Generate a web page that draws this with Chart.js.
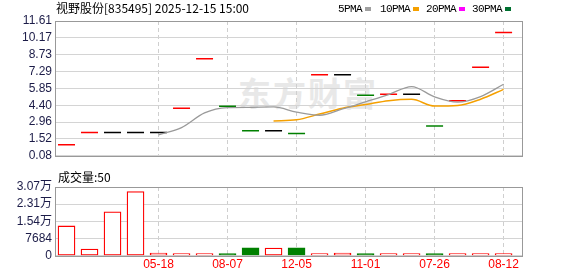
<!DOCTYPE html>
<html>
<head>
<meta charset="utf-8">
<script src="https://cdn.jsdelivr.net/npm/chart.js@4.4.1/dist/chart.umd.min.js"></script>
<style>
  body { margin: 0; background: #fff; }
  #wrap { position: relative; width: 578px; height: 276px; overflow: hidden; font-family: "Noto Sans CJK SC", sans-serif; }
  canvas { position: absolute; left: 0; }
  .t { position: absolute; white-space: nowrap; font-size: 12px; line-height: 14px; color: #000; }
  .lg { position: absolute; top: 2px; font: 11px "Liberation Mono", monospace; letter-spacing: -0.6px; line-height: 14px; color: #000; }
  .sq { position: absolute; top: 7px; width: 6px; height: 4px; }
  .wm { position: absolute; left: 238px; top: 72px; font-size: 33px; font-weight: bold; line-height: 40px; color: #e8e8e8; letter-spacing: 2px; }
</style>
</head>
<body>
<div id="wrap">
  <div class="wm">东方财富</div>
  <canvas id="price" width="578" height="166" style="top:0"></canvas>
  <canvas id="vol" width="578" height="110" style="top:166px"></canvas>

  <div class="t" style="left:56px;top:1px">视野股份[835495] 2025-12-15 15:00</div>

  <div class="lg" style="left:338px">5PMA</div><div class="sq" style="left:365px;background:#a0a0a0"></div>
  <div class="lg" style="left:380px">10PMA</div><div class="sq" style="left:413px;background:#f5a000"></div>
  <div class="lg" style="left:426px">20PMA</div><div class="sq" style="left:459px;background:#ff00ff"></div>
  <div class="lg" style="left:472px">30PMA</div><div class="sq" style="left:505px;background:#007030"></div>

  <div class="t" style="left:58px;top:170px">成交量:50</div>
</div>

<script>
// one flat candle per period (open = high = low = close here)
const closes = [1.02, 2.08, 2.08, 2.08, 2.08, 4.14, 8.38, 4.32, 2.22, 2.22,
                1.98, 7.02, 7.02, 5.26, 5.34, 5.34, 2.62, 4.78, 7.66, 10.62];
const ma5 = [null, null, null, null, 1.87, 2.49, 3.75, 4.20, 4.23, 4.26,
             3.82, 3.55, 4.09, 4.70, 5.32, 6.00, 5.12, 4.67, 5.15, 6.20];
const ma10 = [null, null, null, null, null, null, null, null, null, 3.06,
              3.16, 3.65, 4.15, 4.46, 4.79, 4.91, 4.33, 4.38, 4.92, 5.76];
const volumes = [13300, 2900, 19600, 28700, 1100, 150, 120, 300, 3500, 3350,
                 3500, 150, 1100, 250, 120, 120, 250, 100, 80, 50];

const xTickIndex = [4, 7, 10, 13, 16, 19];
const xTickLabels = ["05-18", "08-07", "12-05", "11-01", "07-26", "08-12"];
const priceTicks = ["0.08", "1.52", "2.96", "4.40", "5.85", "7.29", "8.73", "10.17", "11.61"];
const volTickValues = [0, 7684, 15368, 23052, 30736];
const volTickLabels = ["0", "7684", "1.54万", "2.31万", "3.07万"];

const RED = "#ff0000", GREEN = "#008000";
const trend = closes.map((c, i) => i === 0 || c > closes[i - 1] ? "up" : c < closes[i - 1] ? "down" : "flat");
const candleColor = trend.map(t => t === "up" ? RED : t === "down" ? GREEN : "#000");

const framePlugin = {
  id: "frame",
  afterDatasetsDraw(chart) {
    const { ctx, chartArea: a } = chart;
    ctx.save();
    ctx.strokeStyle = "#999";
    ctx.lineWidth = 1;
    ctx.strokeRect(Math.round(a.left) + 0.5, Math.round(a.top) + 0.5,
                   Math.round(a.right - a.left), Math.round(a.bottom - a.top));
    ctx.restore();
  }
};

const xAxis = (showLabels) => ({
  type: "linear",
  min: -0.5,
  max: 19.8,
  offset: false,
  afterBuildTicks: s => { s.ticks = xTickIndex.map(v => ({ value: v })); },
  ticks: {
    display: showLabels,
    autoSkip: false,
    maxRotation: 0,
    padding: 2,
    color: RED,
    font: { family: "Liberation Sans", size: 12 },
    callback: (v, i) => xTickLabels[i]
  },
  grid: { color: "#cfcfcf", drawTicks: false, offset: false },
  border: { display: false, dash: [4, 3] }
});

const yFont = { family: "'Liberation Sans', 'Noto Sans CJK SC'", size: 12 };

new Chart(document.getElementById("price"), {
  data: {
    datasets: [
      {
        type: "line", label: "5PMA", order: 1,
        data: ma5.map((v, i) => ({ x: i, y: v })),
        borderColor: "#9a9a9a", borderWidth: 1.3, pointRadius: 0,
        cubicInterpolationMode: "monotone"
      },
      {
        type: "line", label: "10PMA", order: 2,
        data: ma10.map((v, i) => ({ x: i, y: v })),
        borderColor: "#f5a000", borderWidth: 1.5, pointRadius: 0,
        cubicInterpolationMode: "monotone"
      },
      {
        type: "scatter", label: "K", order: 3,
        data: closes.map((v, i) => ({ x: i, y: v })),
        pointStyle: "line", pointRadius: 8.5, pointBorderWidth: 1.5,
        pointBorderColor: candleColor, pointBackgroundColor: candleColor
      }
    ]
  },
  options: {
    responsive: false,
    animation: false,
    layout: { padding: { top: 21, right: 56, bottom: 1, left: 0 } },
    plugins: { legend: { display: false }, tooltip: { enabled: false } },
    scales: {
      x: xAxis(false),
      y: {
        min: 0.08, max: 11.61,
        afterFit: s => { s.width = 55; },
        afterBuildTicks: s => { s.ticks = priceTicks.map(t => ({ value: parseFloat(t) })); },
        ticks: { autoSkip: false, color: "#1c1c48", font: yFont, padding: 3, callback: (v, i) => priceTicks[i] },
        grid: { color: "#d4d4d4", drawTicks: false },
        border: { display: false }
      }
    }
  },
  plugins: [framePlugin]
});

new Chart(document.getElementById("vol"), {
  type: "bar",
  data: {
    datasets: [{
      label: "成交量",
      data: volumes.map((v, i) => ({ x: i, y: v })),
      barThickness: 17,
      minBarLength: 2,
      borderWidth: 1.3,
      borderSkipped: false,
      backgroundColor: trend.map(t => t === "down" ? GREEN : "#fff"),
      borderColor: trend.map(t => t === "down" ? GREEN : RED)
    }]
  },
  options: {
    responsive: false,
    animation: false,
    layout: { padding: { top: 21, right: 56, bottom: 2, left: 0 } },
    plugins: { legend: { display: false }, tooltip: { enabled: false } },
    scales: {
      x: xAxis(true),
      y: {
        min: 0, max: 30736,
        afterFit: s => { s.width = 55; },
        afterBuildTicks: s => { s.ticks = volTickValues.map(v => ({ value: v })); },
        ticks: { autoSkip: false, color: "#1c1c48", font: yFont, padding: 3, callback: (v, i) => volTickLabels[i] },
        grid: { color: "#d4d4d4", drawTicks: false },
        border: { display: false }
      }
    }
  },
  plugins: [framePlugin]
});
</script>
</body>
</html>
